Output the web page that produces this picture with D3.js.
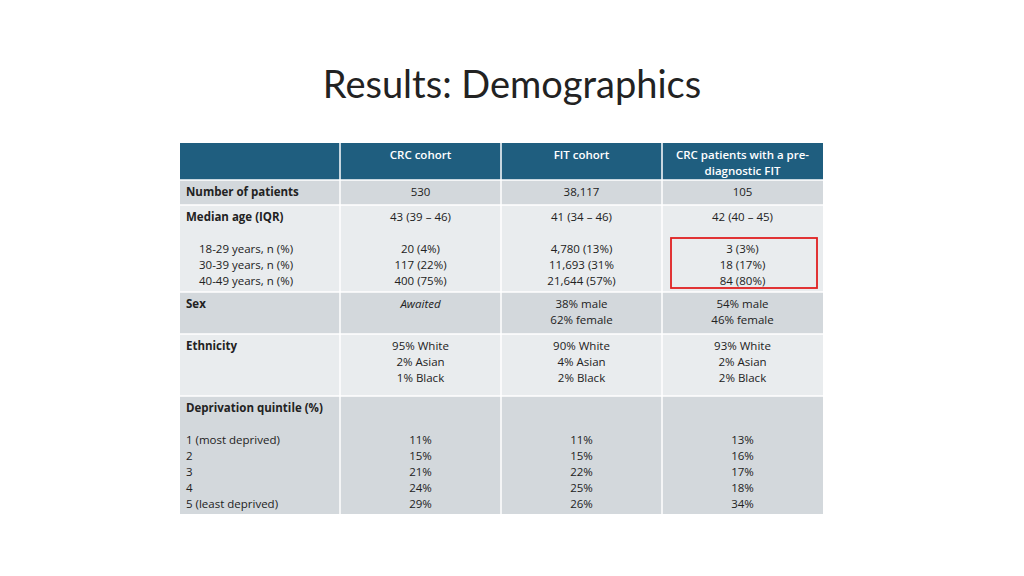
<!DOCTYPE html>
<html><head><meta charset="utf-8">
<script src="https://cdn.jsdelivr.net/npm/d3@7"></script>
<style>body{margin:0;background:#fff}</style>
</head><body>
<script>
// Table content
const columns = ["", "CRC cohort", "FIT cohort", "CRC patients with a pre-|diagnostic FIT"];
const rowLabels = [
  ["Number of patients"],
  ["Median age (IQR)", "", "   18-29 years, n (%)", "   30-39 years, n (%)", "   40-49 years, n (%)"],
  ["Sex"],
  ["Ethnicity"],
  ["Deprivation quintile (%)", "", "1 (most deprived)", "2", "3", "4", "5 (least deprived)"]
];
const crcValues = [
  ["530"],
  ["43 (39 – 46)", "", "20 (4%)", "117 (22%)", "400 (75%)"],
  ["Awaited"],
  ["95% White", "2% Asian", "1% Black"],
  ["", "", "11%", "15%", "21%", "24%", "29%"]
];
const fitValues = [
  ["38,117"],
  ["41 (34 – 46)", "", "4,780 (13%)", "11,693 (31%", "21,644 (57%)"],
  ["38% male", "62% female"],
  ["90% White", "4% Asian", "2% Black"],
  ["", "", "11%", "15%", "22%", "25%", "26%"]
];
const preFitValues = [
  ["105"],
  ["42 (40 – 45)", "", "3 (3%)", "18 (17%)", "84 (80%)"],
  ["54% male", "46% female"],
  ["93% White", "2% Asian", "2% Black"],
  ["", "", "13%", "16%", "17%", "18%", "34%"]
];

const W = 1024, H = 576;
const svg = d3.select("body").append("svg").attr("width", W).attr("height", H)
  .style("font-family", "'Open Sans', sans-serif");

svg.append("text").attr("x", 512).attr("y", 98).attr("text-anchor", "middle")
  .style("font-family", "Lato, sans-serif").style("font-size", "38px").attr("fill", "#222")
  .text("Results: Demographics");

const colEdges = [180, 340, 501, 662, 823];
const rowEdges = [143, 180, 205, 292, 334, 396, 514];
const rowFill = ["#d3d8dc", "#e9ecee", "#d3d8dc", "#e9ecee", "#d3d8dc"];
const lh = 16;
const fs = "11.5px";

// header
columns.forEach((c, i) => {
  svg.append("rect").attr("x", colEdges[i]).attr("y", rowEdges[0])
    .attr("width", colEdges[i + 1] - colEdges[i]).attr("height", rowEdges[1] - rowEdges[0])
    .attr("fill", "#1f5e7f");
  c.split("|").forEach((t, k) => {
    svg.append("text").attr("x", (colEdges[i] + colEdges[i + 1]) / 2).attr("y", 159 + k * lh)
      .attr("text-anchor", "middle").attr("fill", "#fff").style("font-size", fs)
      .style("font-weight", 600).text(t);
  });
});

const cols = [rowLabels, crcValues, fitValues, preFitValues];
rowLabels.forEach((_, r) => {
  const y0 = rowEdges[r + 1], y1 = rowEdges[r + 2];
  cols.forEach((col, i) => {
    svg.append("rect").attr("x", colEdges[i]).attr("y", y0)
      .attr("width", colEdges[i + 1] - colEdges[i]).attr("height", y1 - y0)
      .attr("fill", rowFill[r]);
    col[r].forEach((t, k) => {
      if (!t) return;
      const isLabel = i === 0;
      const indent = isLabel && t.startsWith("   ");
      svg.append("text")
        .attr("x", isLabel ? colEdges[0] + (indent ? 19 : 6) : (colEdges[i] + colEdges[i + 1]) / 2)
        .attr("y", y0 + 16 + k * lh)
        .attr("text-anchor", isLabel ? "start" : "middle")
        .attr("fill", "#222").style("font-size", fs)
        .style("font-weight", isLabel && k === 0 ? 700 : 400)
        .style("font-style", t === "Awaited" ? "italic" : null)
        .text(t.trim());
    });
  });
});

// white grid lines
svg.selectAll(".vl").data(colEdges.slice(1, -1)).join("line")
  .attr("x1", d => d).attr("x2", d => d).attr("y1", rowEdges[0]).attr("y2", rowEdges[6])
  .attr("stroke", "#fff").attr("stroke-width", 1.5);
svg.selectAll(".hl").data(rowEdges.slice(1, -1)).join("line")
  .attr("x1", colEdges[0]).attr("x2", colEdges[4]).attr("y1", d => d).attr("y2", d => d)
  .attr("stroke", "#fff").attr("stroke-width", 1.5);

// highlight box
svg.append("rect").attr("x", 671).attr("y", 238).attr("width", 146).attr("height", 50)
  .attr("fill", "none").attr("stroke", "#e02020").attr("stroke-width", 1.8);
</script>
</body></html>
